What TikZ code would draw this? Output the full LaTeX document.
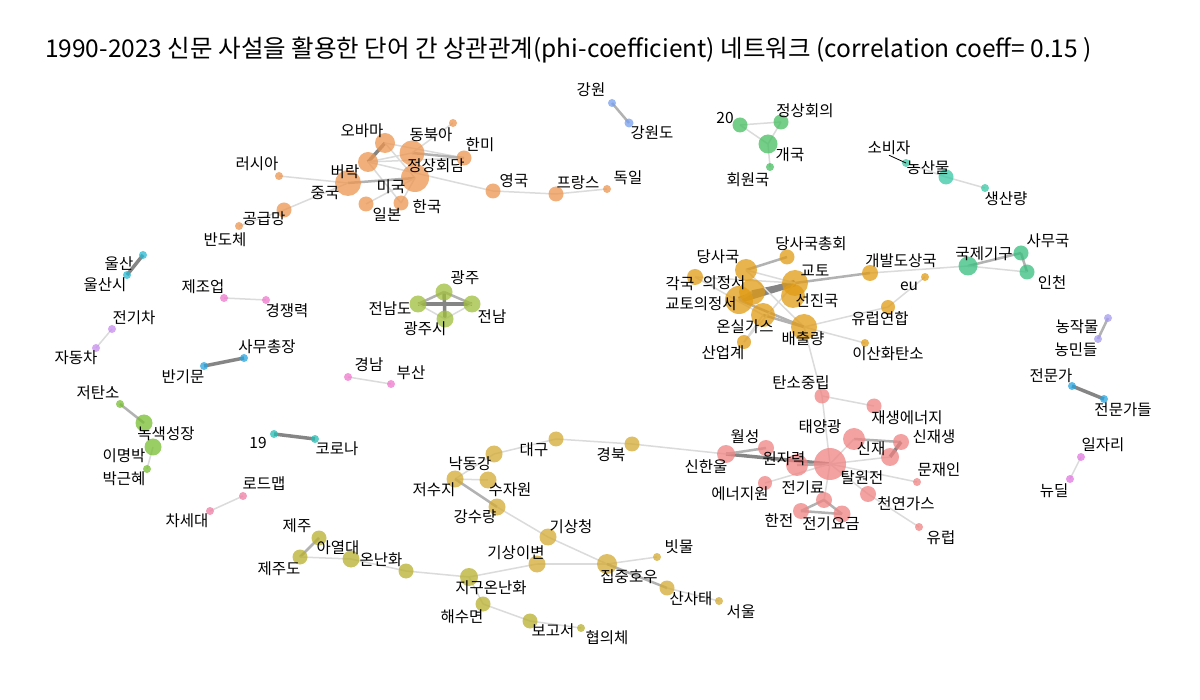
\documentclass[tikz,border=0pt]{standalone}
\usepackage{fontspec}
\setmainfont{Noto Sans CJK KR}
\usepackage{xcolor}
\usepackage{tikz}
\usetikzlibrary{backgrounds}

\definecolor{orgC}{RGB}{237,150,80}
\definecolor{gldC}{RGB}{225,155,20}
\definecolor{redC}{RGB}{240,130,130}
\definecolor{ogdC}{RGB}{212,170,50}
\definecolor{olvC}{RGB}{185,175,45}
\definecolor{limC}{RGB}{160,190,60}
\definecolor{grnC}{RGB}{70,190,95}
\definecolor{gr2C}{RGB}{55,190,125}
\definecolor{tealC}{RGB}{55,200,165}
\definecolor{bluC}{RGB}{120,160,240}
\definecolor{cyaC}{RGB}{40,185,210}
\definecolor{lbuC}{RGB}{40,165,225}
\definecolor{gr3C}{RGB}{120,190,50}
\definecolor{te2C}{RGB}{35,190,180}
\definecolor{pnkC}{RGB}{240,120,205}
\definecolor{pn2C}{RGB}{240,125,165}
\definecolor{purC}{RGB}{200,140,240}
\definecolor{lavC}{RGB}{165,155,240}
\definecolor{magC}{RGB}{225,120,225}

\begin{document}
\begin{tikzpicture}[x=1pt, y=-1pt,
    vt/.style={circle, inner sep=0pt, draw=none, fill=#1, fill opacity=0.75},
    lbl/.style={inner sep=0pt, font=\fontsize{15.5}{15.5}\selectfont},
    ea/.style={line width=1.5pt, black!14},
    eb/.style={line width=2.5pt, black!30},
    ec/.style={line width=3.5pt, black!48},
    ed/.style={line width=6.5pt, black!48}]
    \useasboundingbox (0,0) rectangle (1200,700);
    % 1. 제목
    \node[anchor=west, inner sep=0pt, font=\fontsize{24.5}{24.5}\selectfont] (title) at (45,50)
        {1990-2023 신문 사설을 활용한 단어 간 상관관계(phi-coefficient) 네트워크 (correlation coeff= 0.15 )};

    % 2. 외교 (주황)
    \node[vt=orgC, minimum size=20] (obama) at (385,143) {};
    \node[vt=orgC, minimum size=8] (dongbuka) at (453,123) {};
    \node[vt=orgC, minimum size=15] (hanmi) at (464,158) {};
    \node[vt=orgC, minimum size=25] (jeongsang) at (412,153) {};
    \node[vt=orgC, minimum size=28] (miguk) at (415,178) {};
    \node[vt=orgC, minimum size=20] (barak) at (368,162) {};
    \node[vt=orgC, minimum size=26] (jungguk) at (348,183) {};
    \node[vt=orgC, minimum size=15] (ilbon) at (366,204) {};
    \node[vt=orgC, minimum size=15] (hanguk) at (401,203) {};
    \node[vt=orgC, minimum size=8] (russia) at (279,176) {};
    \node[vt=orgC, minimum size=15] (gonggeup) at (284,210) {};
    \node[vt=orgC, minimum size=8] (bandoche) at (239,226) {};
    \node[vt=orgC, minimum size=15] (yeongguk) at (493,191) {};
    \node[vt=orgC, minimum size=15] (france) at (556,194) {};
    \node[vt=orgC, minimum size=8] (dogil) at (607,189) {};
    \node[lbl] (obama-l) at (362,131) {오바마};
    \node[lbl] (dongbuka-l) at (431,135) {동북아};
    \node[lbl] (hanmi-l) at (480,145) {한미};
    \node[lbl] (russia-l) at (257,164) {러시아};
    \node[lbl] (barak-l) at (345,172) {버락};
    \node[lbl] (jeongsang-l) at (436,166) {정상회담};
    \node[lbl] (jungguk-l) at (325,193) {중국};
    \node[lbl] (miguk-l) at (391,187) {미국};
    \node[lbl] (yeongguk-l) at (514,181) {영국};
    \node[lbl] (france-l) at (578,183) {프랑스};
    \node[lbl] (dogil-l) at (628,178) {독일};
    \node[lbl] (ilbon-l) at (387,215) {일본};
    \node[lbl] (hanguk-l) at (427,207) {한국};
    \node[lbl] (gonggeup-l) at (264,219) {공급망};
    \node[lbl] (bandoche-l) at (225,240) {반도체};

    % 3. 강원, G20, 농산물
    \node[vt=bluC, minimum size=8] (gangwon) at (612,103) {};
    \node[vt=bluC, minimum size=9] (gangwondo) at (629,123) {};
    \node[lbl] (gangwon-l) at (591,90) {강원};
    \node[lbl] (gangwondo-l) at (652,133) {강원도};
    \node[vt=grnC, minimum size=15] (g20) at (740,125) {};
    \node[vt=grnC, minimum size=15] (jeongsanghoe) at (781,122) {};
    \node[vt=grnC, minimum size=19] (gaeguk) at (768,144) {};
    \node[vt=grnC, minimum size=8] (hoewon) at (770,167) {};
    \node[lbl] (g20-l) at (725,118) {20};
    \node[lbl] (jeongsanghoe-l) at (805,111) {정상회의};
    \node[lbl] (gaeguk-l) at (790,155) {개국};
    \node[lbl] (hoewon-l) at (748,180) {회원국};
    \node[vt=tealC, minimum size=8] (sobija) at (906,163) {};
    \node[vt=tealC, minimum size=15] (nongsan) at (946,177) {};
    \node[vt=tealC, minimum size=8] (saengsan) at (985,188) {};
    \node[lbl] (sobija-l) at (889,148) {소비자};
    \node[lbl] (nongsan-l) at (928,168) {농산물};
    \node[lbl] (saengsan-l) at (1006,199) {생산량};

    % 4. 기후협약 (금색)
    \node[vt=gldC, minimum size=15] (dangsaguk) at (787,257) {};
    \node[vt=gldC, minimum size=22] (dangsa) at (746,270) {};
    \node[vt=gldC, minimum size=16] (gakguk) at (695,277) {};
    \node[vt=gldC, minimum size=26] (uijeongseo) at (752,292) {};
    \node[vt=gldC, minimum size=26] (kyoto) at (795,283) {};
    \node[vt=gldC, minimum size=24] (seonjin) at (793,296) {};
    \node[vt=gldC, minimum size=28] (kyotouijeong) at (739,300) {};
    \node[vt=gldC, minimum size=24] (onsil) at (763,315) {};
    \node[vt=gldC, minimum size=26] (baechul) at (804,327) {};
    \node[vt=gldC, minimum size=14] (saneop) at (744,342) {};
    \node[vt=gldC, minimum size=16] (gaebal) at (870,273) {};
    \node[vt=gldC, minimum size=8] (eu) at (925,277) {};
    \node[vt=gldC, minimum size=14] (yureop) at (888,307) {};
    \node[vt=gldC, minimum size=8] (isanhwa) at (865,343) {};
    \node[lbl] (dangsaguk-l) at (811,244) {당사국총회};
    \node[lbl] (dangsa-l) at (718,257) {당사국};
    \node[lbl] (kyoto-l) at (815,271) {교토};
    \node[lbl] (gaebal-l) at (901,261) {개발도상국};
    \node[lbl] (gakguk-l) at (680,284) {각국};
    \node[lbl] (uijeongseo-l) at (724,283) {의정서};
    \node[lbl] (eu-l) at (909,286) {eu};
    \node[lbl] (kyotouijeong-l) at (701,304) {교토의정서};
    \node[lbl] (seonjin-l) at (817,301) {선진국};
    \node[lbl] (yureop-l) at (880,319) {유럽연합};
    \node[lbl] (onsil-l) at (745,327) {온실가스};
    \node[lbl] (baechul-l) at (803,339) {배출량};
    \node[lbl] (saneop-l) at (723,353) {산업계};
    \node[lbl] (isanhwa-l) at (888,354) {이산화탄소};
    \node[vt=gr2C, minimum size=19] (gukje) at (968,266) {};
    \node[vt=gr2C, minimum size=15] (samuguk) at (1021,253) {};
    \node[vt=gr2C, minimum size=15] (incheon) at (1027,272) {};
    \node[lbl] (gukje-l) at (984,254) {국제기구};
    \node[lbl] (samuguk-l) at (1048,241) {사무국};
    \node[lbl] (incheon-l) at (1052,283) {인천};

    % 5. 작은 묶음들
    \node[vt=cyaC, minimum size=8] (ulsan) at (143,255) {};
    \node[vt=cyaC, minimum size=8] (ulsansi) at (127,275) {};
    \node[lbl] (ulsan-l) at (119,264) {울산};
    \node[lbl] (ulsansi-l) at (105,285) {울산시};
    \node[vt=pnkC, minimum size=8] (jejo) at (224,298) {};
    \node[vt=pnkC, minimum size=8] (gyeongjaeng) at (266,300) {};
    \node[lbl] (jejo-l) at (203,287) {제조업};
    \node[lbl] (gyeongjaeng-l) at (287,311) {경쟁력};
    \node[vt=purC, minimum size=8] (jeongicha) at (112,329) {};
    \node[vt=purC, minimum size=8] (jadongcha) at (96,348) {};
    \node[lbl] (jeongicha-l) at (134,318) {전기차};
    \node[lbl] (jadongcha-l) at (76,358) {자동차};
    \node[vt=lbuC, minimum size=8] (samuchong) at (244,358) {};
    \node[vt=lbuC, minimum size=8] (bangimun) at (204,366) {};
    \node[lbl] (samuchong-l) at (267,347) {사무총장};
    \node[lbl] (bangimun-l) at (183,377) {반기문};
    \node[vt=limC, minimum size=17] (gwangju) at (444,292) {};
    \node[vt=limC, minimum size=17] (jeonnamdo) at (418,304) {};
    \node[vt=limC, minimum size=17] (jeonnam) at (472,304) {};
    \node[vt=limC, minimum size=17] (gwangjusi) at (445,319) {};
    \node[lbl] (gwangju-l) at (465,278) {광주};
    \node[lbl] (jeonnamdo-l) at (390,309) {전남도};
    \node[lbl] (jeonnam-l) at (492,317) {전남};
    \node[lbl] (gwangjusi-l) at (425,329) {광주시};
    \node[vt=pnkC, minimum size=8] (gyeongnam) at (348,377) {};
    \node[vt=pnkC, minimum size=8] (busan) at (391,384) {};
    \node[lbl] (gyeongnam-l) at (369,365) {경남};
    \node[lbl] (busan-l) at (411,373) {부산};
    \node[vt=lavC, minimum size=8] (nongjak) at (1108,318) {};
    \node[vt=lavC, minimum size=8] (nongmin) at (1098,339) {};
    \node[lbl] (nongjak-l) at (1077,327) {농작물};
    \node[lbl] (nongmin-l) at (1076,350) {농민들};
    \node[vt=lbuC, minimum size=8] (jeonmunga) at (1072,386) {};
    \node[vt=lbuC, minimum size=8] (jeonmungadeul) at (1104,399) {};
    \node[lbl] (jeonmunga-l) at (1051,376) {전문가};
    \node[lbl] (jeonmungadeul-l) at (1123,410) {전문가들};
    \node[vt=magC, minimum size=8] (iljari) at (1081,457) {};
    \node[vt=magC, minimum size=8] (newdeal) at (1070,479) {};
    \node[lbl] (iljari-l) at (1103,445) {일자리};
    \node[lbl] (newdeal-l) at (1054,491) {뉴딜};
    \node[vt=gr3C, minimum size=8] (jeotanso) at (120,404) {};
    \node[vt=gr3C, minimum size=17] (noksaek) at (144,423) {};
    \node[vt=gr3C, minimum size=17] (imyeongbak) at (153,447) {};
    \node[vt=gr3C, minimum size=8] (bakgeunhye) at (147,469) {};
    \node[lbl] (jeotanso-l) at (98,393) {저탄소};
    \node[lbl] (noksaek-l) at (166,434) {녹색성장};
    \node[lbl] (imyeongbak-l) at (124,456) {이명박};
    \node[lbl] (bakgeunhye-l) at (124,479) {박근혜};
    \node[vt=te2C, minimum size=8] (n19) at (274,434) {};
    \node[vt=te2C, minimum size=8] (corona) at (315,439) {};
    \node[lbl] (n19-l) at (258,443) {19};
    \node[lbl] (corona-l) at (337,449) {코로나};
    \node[vt=pn2C, minimum size=8] (roadmap) at (243,496) {};
    \node[vt=pn2C, minimum size=8] (chasedae) at (210,511) {};
    \node[lbl] (roadmap-l) at (264,484) {로드맵};
    \node[lbl] (chasedae-l) at (187,521) {차세대};

    % 6. 에너지 (빨강)
    \node[vt=redC, minimum size=15] (tanso) at (822,396) {};
    \node[vt=redC, minimum size=15] (jaesaeng) at (874,406) {};
    \node[vt=redC, minimum size=22] (taeyang) at (854,439) {};
    \node[vt=redC, minimum size=16] (sinjaesaeng) at (901,442) {};
    \node[vt=redC, minimum size=18] (sinjae) at (890,457) {};
    \node[vt=redC, minimum size=16] (wolseong) at (766,448) {};
    \node[vt=redC, minimum size=18] (sinhanul) at (726,454) {};
    \node[vt=redC, minimum size=22] (wonjaryeok) at (797,465) {};
    \node[vt=redC, minimum size=32] (talwonjeon) at (830,464) {};
    \node[vt=redC, minimum size=8] (munjaein) at (917,482) {};
    \node[vt=redC, minimum size=14] (eneoji) at (765,483) {};
    \node[vt=redC, minimum size=16] (jeongiryo) at (824,500) {};
    \node[vt=redC, minimum size=16] (cheonyeon) at (868,494) {};
    \node[vt=redC, minimum size=16] (hanjeon) at (801,511) {};
    \node[vt=redC, minimum size=17] (yogeum) at (842,514) {};
    \node[vt=redC, minimum size=8] (yureop2) at (919,527) {};
    \node[lbl] (tanso-l) at (801,383) {탄소중립};
    \node[lbl] (jaesaeng-l) at (907,418) {재생에너지};
    \node[lbl] (taeyang-l) at (820,427) {태양광};
    \node[lbl] (wolseong-l) at (745,437) {월성};
    \node[lbl] (sinjaesaeng-l) at (934,437) {신재생};
    \node[lbl] (sinjae-l) at (871,449) {신재};
    \node[lbl] (sinhanul-l) at (706,467) {신한울};
    \node[lbl] (wonjaryeok-l) at (784,459) {원자력};
    \node[lbl] (talwonjeon-l) at (862,478) {탈원전};
    \node[lbl] (munjaein-l) at (939,470) {문재인};
    \node[lbl] (eneoji-l) at (740,494) {에너지원};
    \node[lbl] (jeongiryo-l) at (803,488) {전기료};
    \node[lbl] (cheonyeon-l) at (906,504) {천연가스};
    \node[lbl] (hanjeon-l) at (779,521) {한전};
    \node[lbl] (yogeum-l) at (831,524) {전기요금};
    \node[lbl] (yureop2-l) at (941,538) {유럽};

    % 7. 기후/재해 (황록)
    \node[vt=ogdC, minimum size=15] (daegu) at (556,439) {};
    \node[vt=ogdC, minimum size=15] (gyeongbuk) at (632,444) {};
    \node[vt=ogdC, minimum size=17] (nakdong) at (494,454) {};
    \node[vt=ogdC, minimum size=17] (jeosuji) at (455,479) {};
    \node[vt=ogdC, minimum size=17] (sujawon) at (488,480) {};
    \node[vt=ogdC, minimum size=17] (gangsu) at (497,507) {};
    \node[vt=ogdC, minimum size=17] (gisangcheong) at (548,537) {};
    \node[vt=ogdC, minimum size=17] (gisangibyeon) at (537,564) {};
    \node[vt=ogdC, minimum size=20] (jipjung) at (607,564) {};
    \node[vt=ogdC, minimum size=8] (bitmul) at (657,557) {};
    \node[vt=ogdC, minimum size=15] (sansatae) at (667,588) {};
    \node[vt=ogdC, minimum size=8] (seoul) at (719,601) {};
    \node[vt=olvC, minimum size=15] (jeju) at (319,538) {};
    \node[vt=olvC, minimum size=15] (jejudo) at (300,557) {};
    \node[vt=olvC, minimum size=17] (ayeoldae) at (351,559) {};
    \node[vt=olvC, minimum size=15] (onnanhwa) at (406,571) {};
    \node[vt=olvC, minimum size=18] (jigu) at (469,577) {};
    \node[vt=olvC, minimum size=15] (haesu) at (483,604) {};
    \node[vt=olvC, minimum size=15] (bogoseo) at (530,621) {};
    \node[vt=olvC, minimum size=8] (hyeobui) at (581,628) {};
    \node[lbl] (daegu-l) at (534,450) {대구};
    \node[lbl] (gyeongbuk-l) at (611,455) {경북};
    \node[lbl] (nakdong-l) at (470,464) {낙동강};
    \node[lbl] (jeosuji-l) at (434,490) {저수지};
    \node[lbl] (sujawon-l) at (510,490) {수자원};
    \node[lbl] (gangsu-l) at (475,517) {강수량};
    \node[lbl] (gisangcheong-l) at (571,527) {기상청};
    \node[lbl] (bitmul-l) at (679,547) {빗물};
    \node[lbl] (gisangibyeon-l) at (516,553) {기상이변};
    \node[lbl] (jipjung-l) at (629,577) {집중호우};
    \node[lbl] (sansatae-l) at (691,599) {산사태};
    \node[lbl] (seoul-l) at (741,612) {서울};
    \node[lbl] (jeju-l) at (297,526) {제주};
    \node[lbl] (ayeoldae-l) at (338,548) {아열대};
    \node[lbl] (jejudo-l) at (279,569) {제주도};
    \node[lbl] (onnanhwa-l) at (381,560) {온난화};
    \node[lbl] (jigu-l) at (491,588) {지구온난화};
    \node[lbl] (haesu-l) at (462,617) {해수면};
    \node[lbl] (bogoseo-l) at (553,631) {보고서};
    \node[lbl] (hyeobui-l) at (607,638) {협의체};

    % 8. 연결선
    \begin{scope}[on background layer]
    \fill[white] (0,0) rectangle (1200,700);
    \draw[ec] (obama.center) -- (barak.center);
    \draw[ea] (obama.center) -- (miguk.center);
    \draw[ea] (obama.center) -- (hanmi.center);
    \draw[ea] (barak.center) -- (jeongsang.center);
    \draw[ea] (barak.center) -- (hanmi.center);
    \draw[ea] (barak.center) -- (hanguk.center);
    \draw[ea] (barak.center) -- (yeongguk.center);
    \draw[eb] (jungguk.center) -- (miguk.center);
    \draw[ea] (jungguk.center) -- (russia.center);
    \draw[ea] (jungguk.center) -- (gonggeup.center);
    \draw[ea] (ilbon.center) -- (miguk.center);
    \draw[ea] (hanguk.center) -- (miguk.center);
    \draw[eb] (jeongsang.center) -- (hanmi.center);
    \draw[ea] (jeongsang.center) -- (dongbuka.center);
    \draw[ea] (yeongguk.center) -- (france.center);
    \draw[ea] (france.center) -- (dogil.center);
    \draw[ea] (gonggeup.center) -- (bandoche.center);
    \draw[eb] (gangwon.center) -- (gangwondo.center);
    \draw[ea] (g20.center) -- (jeongsanghoe.center);
    \draw[ea] (g20.center) -- (gaeguk.center);
    \draw[ea] (jeongsanghoe.center) -- (gaeguk.center);
    \draw[ea] (gaeguk.center) -- (hoewon.center);
    \draw[ea] (sobija.center) -- (nongsan.center);
    \draw[ea] (nongsan.center) -- (saengsan.center);
    \draw[ed] (kyotouijeong.center) -- (kyoto.center);
    \draw[ec] (uijeongseo.center) -- (kyoto.center);
    \draw[eb] (kyotouijeong.center) -- (uijeongseo.center);
    \draw[eb] (dangsa.center) -- (dangsaguk.center);
    \draw[eb] (kyoto.center) -- (gaebal.center);
    \draw[ea] (gaebal.center) -- (gukje.center);
    \draw[ea] (dangsa.center) -- (kyoto.center);
    \draw[ea] (dangsa.center) -- (baechul.center);
    \draw[eb] (kyotouijeong.center) -- (baechul.center);
    \draw[eb] (onsil.center) -- (baechul.center);
    \draw[ea] (onsil.center) -- (saneop.center);
    \draw[ea] (saneop.center) -- (kyoto.center);
    \draw[ea] (gakguk.center) -- (kyoto.center);
    \draw[ea] (gakguk.center) -- (onsil.center);
    \draw[ea] (baechul.center) -- (isanhwa.center);
    \draw[ea] (baechul.center) -- (yureop.center);
    \draw[ea] (yureop.center) -- (eu.center);
    \draw[ea] (baechul.center) -- (tanso.center);
    \draw[eb] (gukje.center) -- (samuguk.center);
    \draw[eb] (samuguk.center) -- (incheon.center);
    \draw[ea] (gukje.center) -- (incheon.center);
    \draw[ec] (ulsan.center) -- (ulsansi.center);
    \draw[ea] (jejo.center) -- (gyeongjaeng.center);
    \draw[ea] (jeongicha.center) -- (jadongcha.center);
    \draw[ec] (samuchong.center) -- (bangimun.center);
    \draw[ec] (jeonnamdo.center) -- (jeonnam.center);
    \draw[ec] (gwangju.center) -- (gwangjusi.center);
    \draw[eb] (gwangju.center) -- (jeonnamdo.center);
    \draw[eb] (gwangju.center) -- (jeonnam.center);
    \draw[ea] (gwangjusi.center) -- (jeonnam.center);
    \draw[ea] (gwangjusi.center) -- (jeonnamdo.center);
    \draw[ea] (gyeongnam.center) -- (busan.center);
    \draw[eb] (nongjak.center) -- (nongmin.center);
    \draw[ec] (jeonmunga.center) -- (jeonmungadeul.center);
    \draw[ea] (iljari.center) -- (newdeal.center);
    \draw[eb] (jeotanso.center) -- (noksaek.center);
    \draw[ea] (imyeongbak.center) -- (bakgeunhye.center);
    \draw[ec] (n19.center) -- (corona.center);
    \draw[ea] (roadmap.center) -- (chasedae.center);
    \draw[ec] (sinhanul.center) -- (talwonjeon.center);
    \draw[eb] (sinhanul.center) -- (wolseong.center);
    \draw[eb] (wonjaryeok.center) -- (talwonjeon.center);
    \draw[eb] (taeyang.center) -- (sinjaesaeng.center);
    \draw[ec] (sinjaesaeng.center) -- (sinjae.center);
    \draw[ea] (tanso.center) -- (jaesaeng.center);
    \draw[ea] (tanso.center) -- (talwonjeon.center);
    \draw[ea] (taeyang.center) -- (talwonjeon.center);
    \draw[ea] (sinjae.center) -- (talwonjeon.center);
    \draw[ea] (munjaein.center) -- (talwonjeon.center);
    \draw[ea] (cheonyeon.center) -- (talwonjeon.center);
    \draw[ea] (cheonyeon.center) -- (yureop2.center);
    \draw[ea] (eneoji.center) -- (talwonjeon.center);
    \draw[ea] (jeongiryo.center) -- (talwonjeon.center);
    \draw[eb] (jeongiryo.center) -- (hanjeon.center);
    \draw[eb] (jeongiryo.center) -- (yogeum.center);
    \draw[eb] (hanjeon.center) -- (yogeum.center);
    \draw[ea] (gyeongbuk.center) -- (sinhanul.center);
    \draw[ea] (daegu.center) -- (gyeongbuk.center);
    \draw[ea] (daegu.center) -- (nakdong.center);
    \draw[ea] (nakdong.center) -- (jeosuji.center);
    \draw[ea] (jeosuji.center) -- (sujawon.center);
    \draw[eb] (jeosuji.center) -- (gangsu.center);
    \draw[ea] (gangsu.center) -- (gisangcheong.center);
    \draw[ea] (gisangcheong.center) -- (jipjung.center);
    \draw[ea] (gisangibyeon.center) -- (jipjung.center);
    \draw[ea] (jigu.center) -- (gisangibyeon.center);
    \draw[ea] (jipjung.center) -- (bitmul.center);
    \draw[eb] (jipjung.center) -- (sansatae.center);
    \draw[ea] (sansatae.center) -- (seoul.center);
    \draw[eb] (jeju.center) -- (jejudo.center);
    \draw[ea] (jejudo.center) -- (ayeoldae.center);
    \draw[ea] (ayeoldae.center) -- (onnanhwa.center);
    \draw[ea] (onnanhwa.center) -- (jigu.center);
    \draw[ea] (jigu.center) -- (haesu.center);
    \draw[ea] (haesu.center) -- (bogoseo.center);
    \draw[ea] (bogoseo.center) -- (hyeobui.center);
    \end{scope}
    \draw[black, line width=0.8pt] (sobija-l.south) -- (sobija.center);
\end{tikzpicture}
\end{document}
